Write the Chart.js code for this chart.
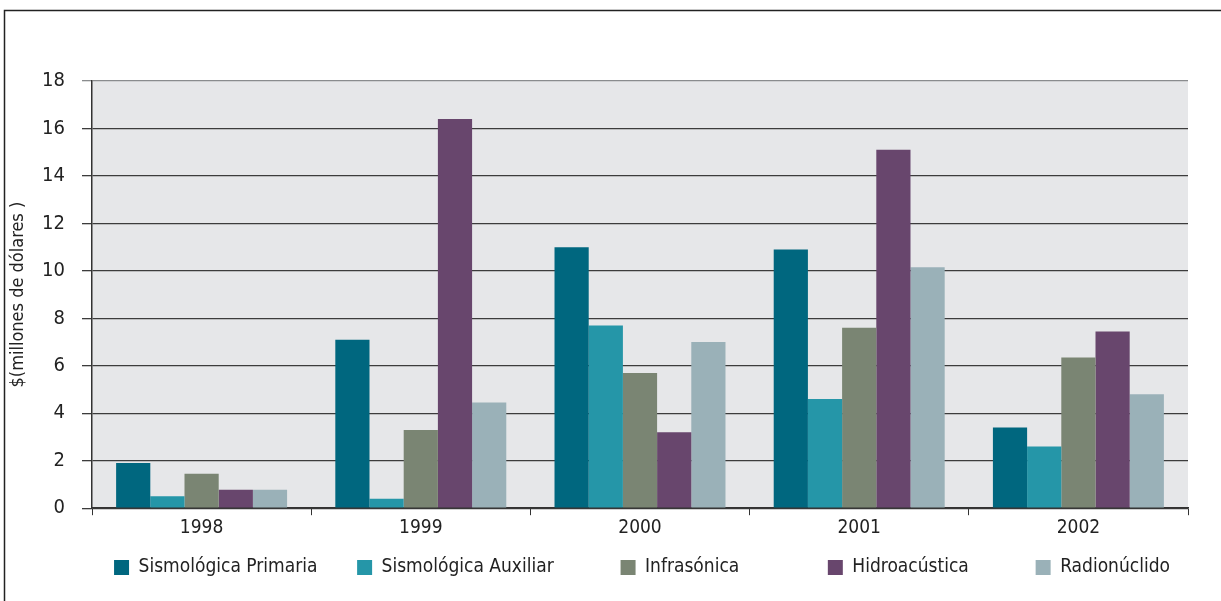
<!DOCTYPE html>
<html>
<head>
<meta charset="utf-8">
<script src="https://cdn.jsdelivr.net/npm/chart.js@4/dist/chart.umd.min.js"></script>
<style>
  html, body { margin: 0; padding: 0; background: #fff; }
  #wrap { width: 1221px; height: 601px; position: relative; }
</style>
</head>
<body>
<div id="wrap"><canvas id="myChart"></canvas></div>
<script>
//------------------data---------------------
const years = ["1998", "1999", "2000", "2001", "2002"];
const seriesNames = ["Sismológica Primaria", "Sismológica Auxiliar", "Infrasónica", "Hidroacústica", "Radionúclido"];
const sismoPrimaria = [1.9, 7.1, 11.0, 10.9, 3.4];
const sismoAuxiliar = [0.5, 0.4, 7.7, 4.6, 2.6];
const infrasonica = [1.45, 3.3, 5.7, 7.6, 6.35];
const hidroacustica = [0.78, 16.4, 3.2, 15.1, 7.45];
const radionuclido = [0.78, 4.45, 7.0, 10.15, 4.8];
const yTicks = [0, 2, 4, 6, 8, 10, 12, 14, 16, 18];

const colors = ["#00677f", "#2596a8", "#7a8573", "#68466d", "#9ab1b8"];
// extra gap after each legend entry (legend entries are unevenly spaced in the original)
const legendGaps = [4, 9, 13, 9, 0];
const fontFamily = "'Liberation Sans Narrow', 'DejaVu Sans Condensed', 'Roboto', sans-serif";

//------------------plugins---------------------
const frameAndPlot = {
  id: 'frameAndPlot',
  beforeDraw(chart) {
    const ctx = chart.ctx;
    const a = chart.chartArea;
    ctx.save();
    ctx.fillStyle = '#e6e7e9';
    ctx.fillRect(a.left, a.top, a.right - a.left, a.bottom - a.top);
    ctx.strokeStyle = '#222';
    ctx.lineWidth = 1.5;
    ctx.strokeRect(4.5, 10.5, chart.width + 20, chart.height + 20);
    ctx.restore();
  }
};

function buildDatasets() {
  const values = [sismoPrimaria, sismoAuxiliar, infrasonica, hidroacustica, radionuclido];
  return seriesNames.map((name, i) => ({
    label: name,
    data: values[i],
    backgroundColor: colors[i],
    borderWidth: 0,
    barPercentage: 1.0,
    categoryPercentage: 0.78
  }));
}

function legendLabels(chart) {
  const items = Chart.defaults.plugins.legend.labels.generateLabels(chart);
  items.forEach((item, i) => {
    item.text = item.text + '\u00a0'.repeat(legendGaps[i]);
    item.lineWidth = 0;
  });
  return items;
}

function createChart() {
  let myChart = document.getElementById("myChart").getContext('2d');

  new Chart(myChart, {
    type: 'bar',
    data: {
      labels: years,
      datasets: buildDatasets()
    },
    options: {
      responsive: true,
      maintainAspectRatio: false,
      animation: false,
      layout: {
        padding: { left: 8, right: 33, top: 81, bottom: 14 }
      },
      plugins: {
        legend: {
          position: 'bottom',
          align: 'end',
          labels: {
            color: '#222',
            font: { family: fontFamily, size: 19 },
            boxWidth: 15,
            boxHeight: 15,
            padding: 18,
            generateLabels: legendLabels
          }
        },
        tooltip: { enabled: false }
      },
      scales: {
        x: {
          grid: {
            display: true,
            drawOnChartArea: false,
            drawTicks: true,
            tickLength: 7,
            color: '#333',
            offset: true
          },
          border: { display: true, color: '#333', width: 1.5 },
          ticks: {
            color: '#222',
            font: { family: fontFamily, size: 19 },
            padding: 1
          }
        },
        y: {
          min: 0,
          max: 18,
          afterBuildTicks(axis) {
            axis.ticks = yTicks.map(v => ({ value: v }));
          },
          afterFit(axis) {
            axis.width = 84;
          },
          grid: {
            color: (c) => (c.tick && c.tick.value === 18) ? '#8a8c8e' : '#3c3c3c',
            lineWidth: 1.3,
            tickLength: 10
          },
          border: { display: true, color: '#333', width: 1.5 },
          title: {
            display: true,
            text: '$(millones de dólares )',
            color: '#222',
            font: { family: fontFamily, size: 18 },
            padding: 0
          },
          ticks: {
            color: '#222',
            font: { family: fontFamily, size: 20 },
            padding: 17
          }
        }
      }
    },
    plugins: [frameAndPlot]
  });
}

createChart();
</script>
</body>
</html>
